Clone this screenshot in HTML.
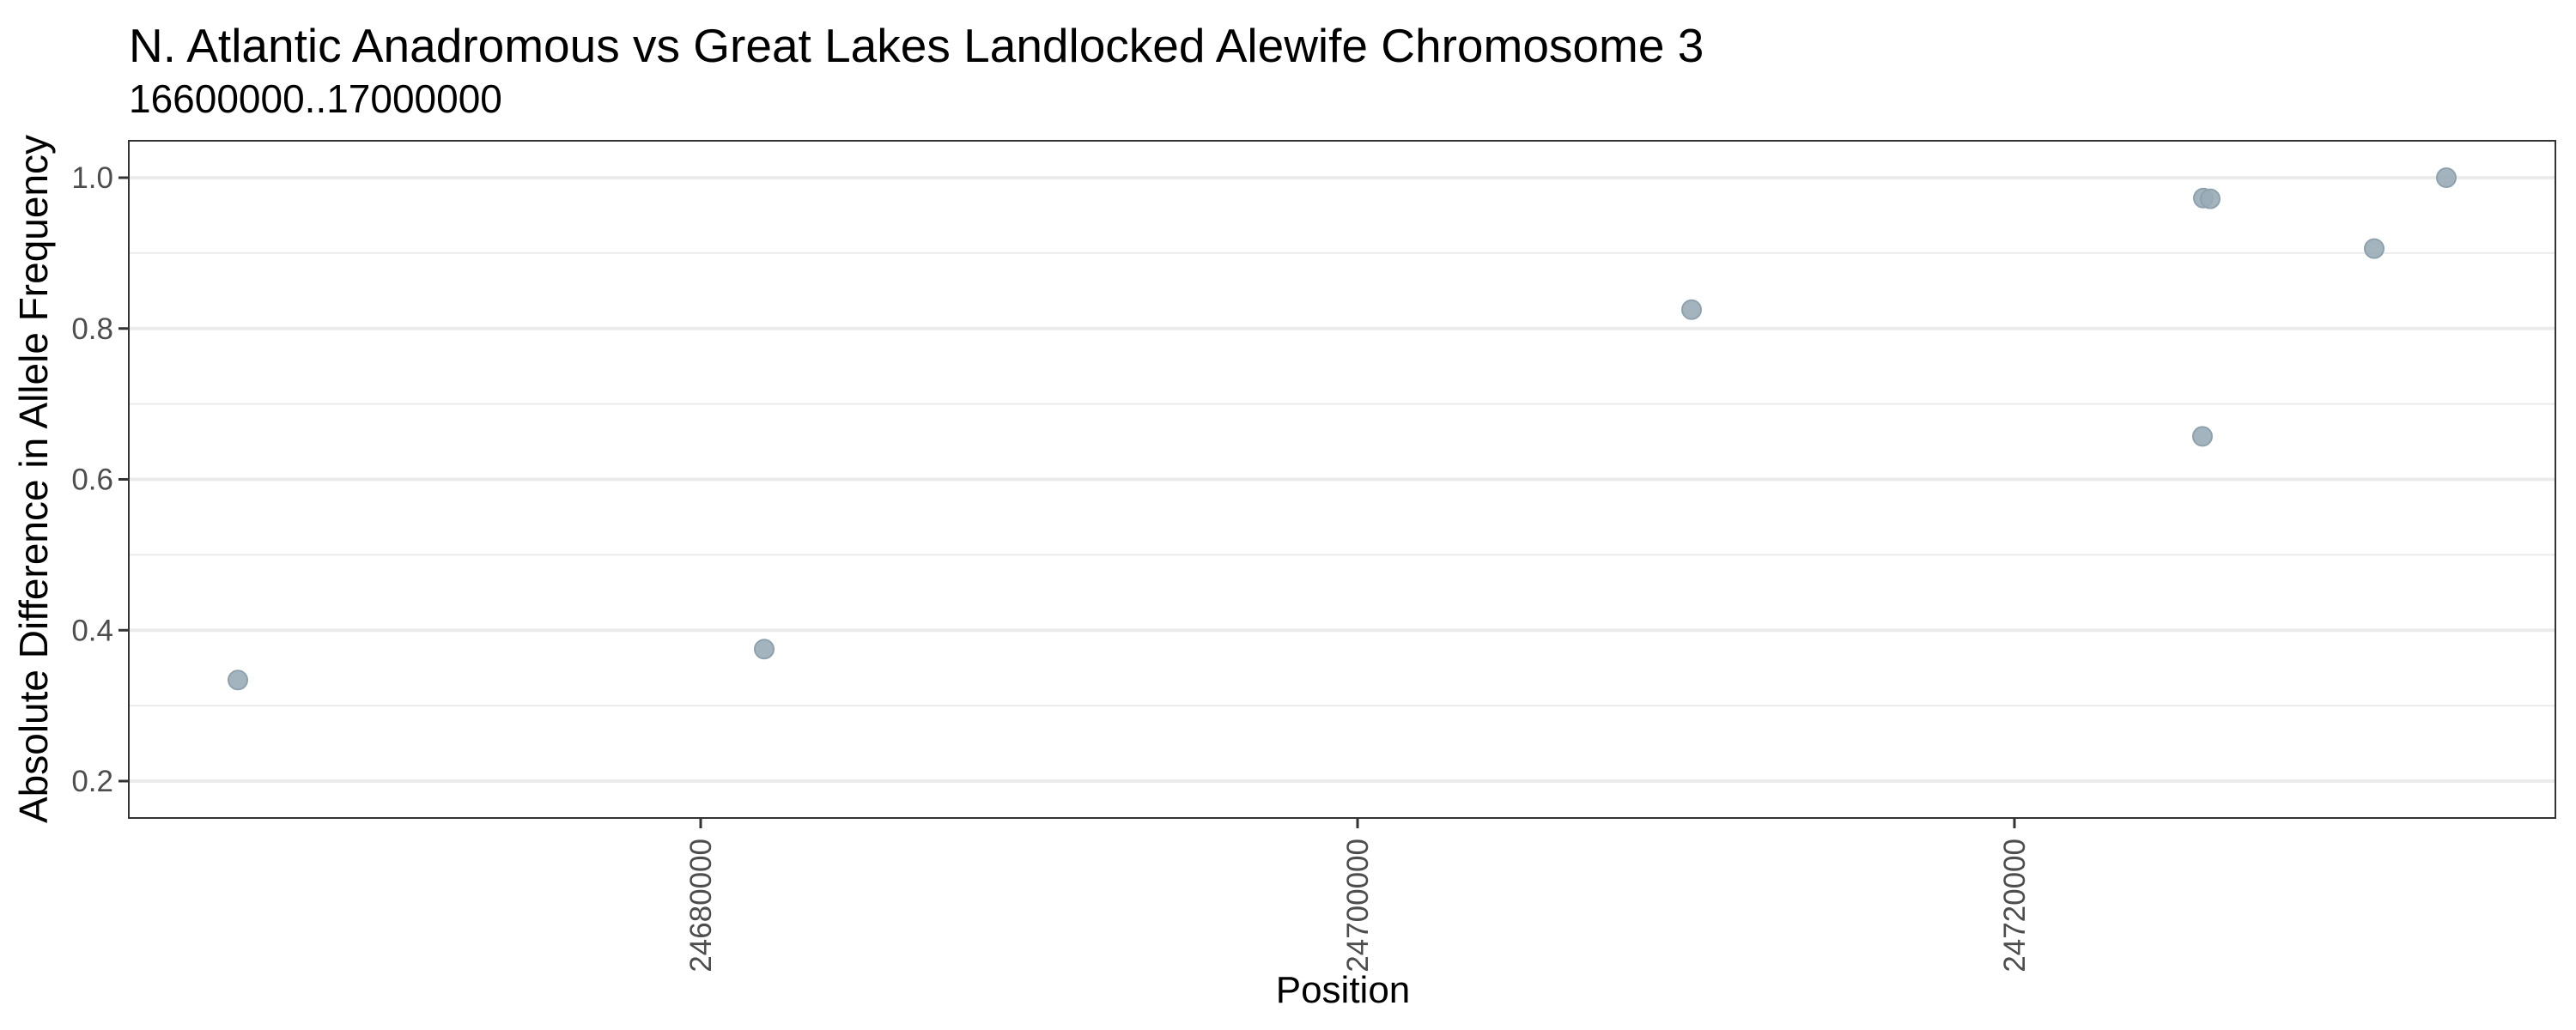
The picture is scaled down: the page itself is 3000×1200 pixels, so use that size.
<!DOCTYPE html>
<html><head><meta charset="utf-8"><style>
html,body{margin:0;padding:0;background:#fff;}
svg{display:block;}
text{font-family:"Liberation Sans",Arial,sans-serif;}
</style></head><body>
<svg id="chart" width="3000" height="1200" viewBox="0 0 3000 1200" xmlns="http://www.w3.org/2000/svg">
<rect width="3000" height="1200" fill="#fff"/>
<text x="150" y="72" font-size="55" fill="#000">N. Atlantic Anadromous vs Great Lakes Landlocked Alewife Chromosome 3</text>
<text x="150" y="131" font-size="46" fill="#000">16600000..17000000</text>
<g id="grid"></g>
<g id="points"></g>
<rect x="150" y="164" width="2826" height="789" fill="none" stroke="#333" stroke-width="2"/>
<g id="axes"></g>
<text x="1564" y="1168" font-size="44" text-anchor="middle" fill="#000">Position</text>
<text transform="translate(55,558) rotate(-90)" font-size="46" text-anchor="middle" fill="#000">Absolute Difference in Allele Frequency</text>
</svg>
<script>
const positions = [24665909, 24681935, 24710170, 24725752, 24725961, 24725725, 24730954, 24733150];
const diffs = [0.334, 0.375, 0.825, 0.973, 0.972, 0.657, 0.906, 1.0];
const xTicks = [24680000, 24700000, 24720000];
const xTickLabels = ["24680000", "24700000", "24720000"];
const yTicks = [0.2, 0.4, 0.6, 0.8, 1.0];
const yTickLabels = ["0.2", "0.4", "0.6", "0.8", "1.0"];
const yMinor = [0.3, 0.5, 0.7, 0.9];

const NS = "http://www.w3.org/2000/svg";
const PL = 150, PR = 2976, PT = 164, PB = 953;
const xRef = 24680000, xRefPx = 816, pxPer = 765 / 20000;
function xScale(v){ return xRefPx + (v - xRef) * pxPer; }
function yScale(v){ return 207 + (1.0 - v) * 878.75; }
function mk(tag, attrs, parent){
  const el = document.createElementNS(NS, tag);
  for (const k in attrs) el.setAttribute(k, attrs[k]);
  parent.appendChild(el);
  return el;
}
const grid = document.getElementById('grid');
const axes = document.getElementById('axes');
const pts = document.getElementById('points');
yMinor.forEach(v => {
  const l = mk('line', {x1:PL, x2:PR, y1:yScale(v), y2:yScale(v), stroke:'#ebebeb', 'stroke-width':2}, grid);
  
  
});
yTicks.forEach((v, i) => {
  const y = yScale(v);
  const l = mk('line', {x1:PL, x2:PR, y1:y, y2:y, stroke:'#ebebeb', 'stroke-width':4}, grid);
  
  
  const t = mk('line', {x1:PL-12, x2:PL, y1:y, y2:y, stroke:'#333', 'stroke-width':3}, axes);
  
  
  const tx = mk('text', {x:PL-18, y:y+12, 'font-size':35, 'text-anchor':'end', fill:'#4d4d4d'}, axes);
  tx.textContent = yTickLabels[i];
  
  
});
xTicks.forEach((v, i) => {
  const x = xScale(v);
  const t = mk('line', {x1:x, x2:x, y1:PB, y2:PB+12, stroke:'#333', 'stroke-width':3}, axes);
  
  
  const tx = mk('text', {transform:'translate(' + (x+12) + ',' + (PB+24) + ') rotate(-90)', 'font-size':35, 'text-anchor':'end', fill:'#4d4d4d'}, axes);
  tx.textContent = xTickLabels[i];
  
  
});
positions.forEach((p, i) => {
  const c = mk('circle', {cx:xScale(p), cy:yScale(diffs[i]), r:11, fill:'#9aacb7', 'fill-opacity':0.9, stroke:'#8ea2ae', 'stroke-width':2}, pts);
  
  
});
</script>
</body></html>
